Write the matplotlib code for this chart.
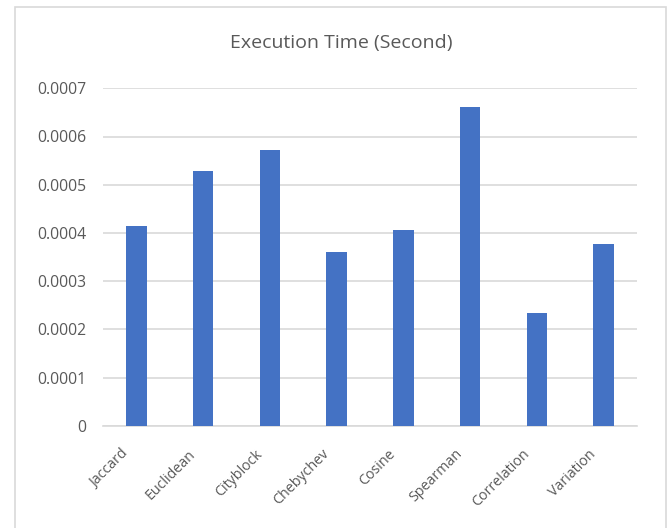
import matplotlib.pyplot as plt
from matplotlib.patches import Rectangle
from matplotlib.transforms import ScaledTranslation

# execution time per distance metric (seconds)
metrics = ["Jaccard", "Euclidean", "Cityblock", "Chebychev",
           "Cosine", "Spearman", "Correlation", "Variation"]
times = [0.000414, 0.000528, 0.000572, 0.000360,
         0.000405, 0.000661, 0.000233, 0.000376]
yticks = [0, 0.0001, 0.0002, 0.0003, 0.0004, 0.0005, 0.0006, 0.0007]
ytick_labels = ["0", "0.0001", "0.0002", "0.0003", "0.0004",
                "0.0005", "0.0006", "0.0007"]

W, H = 667, 528
fig = plt.figure(figsize=(W / 100, H / 100), dpi=100)
plt.rcParams['font.family'] = ['Open Sans', 'DejaVu Sans']

# chart area border
fig.patches.append(Rectangle((15 / W, -0.05), 651 / W, 1.05 - 7 / H,
                             transform=fig.transFigure, fill=False,
                             edgecolor="#D9D9D9", linewidth=1.2))

ax = fig.add_axes([103 / W, 1 - 425.7 / H, 534 / W, (425.7 - 88.3) / H])
x = range(len(metrics))
ax.bar(x, times, width=0.31, color="#4472C4", zorder=3)
ax.set_xlim(-0.5, len(metrics) - 0.5)
ax.set_ylim(0, 0.0007)
ax.set_yticks(yticks)
ax.set_yticklabels(ytick_labels)
ax.set_xticks(list(x))
ax.set_xticklabels(metrics, rotation=45, ha="right", rotation_mode="anchor")
ax.grid(axis="y", color="#D9D9D9", linewidth=1.2, zorder=0)
for s in ["top", "right", "left"]:
    ax.spines[s].set_visible(False)
ax.spines["bottom"].set_color("#D9D9D9")
ax.spines["bottom"].set_linewidth(1.2)
ax.tick_params(length=0, colors="#595959")
ax.tick_params(axis="y", pad=12, labelsize=11.3)
ax.tick_params(axis="x", pad=10, labelsize=10.3)

# shift rotated labels left and down, like Excel
off = ScaledTranslation(-15 / 100, -7 / 100, fig.dpi_scale_trans)
for lbl in ax.get_xticklabels():
    lbl.set_transform(lbl.get_transform() + off)

fig.text(341 / W, 1 - 43 / H, "Execution Time (Second)", ha="center",
         va="center", fontsize=14, color="#595959")

fig.savefig("out.png", dpi=100)
